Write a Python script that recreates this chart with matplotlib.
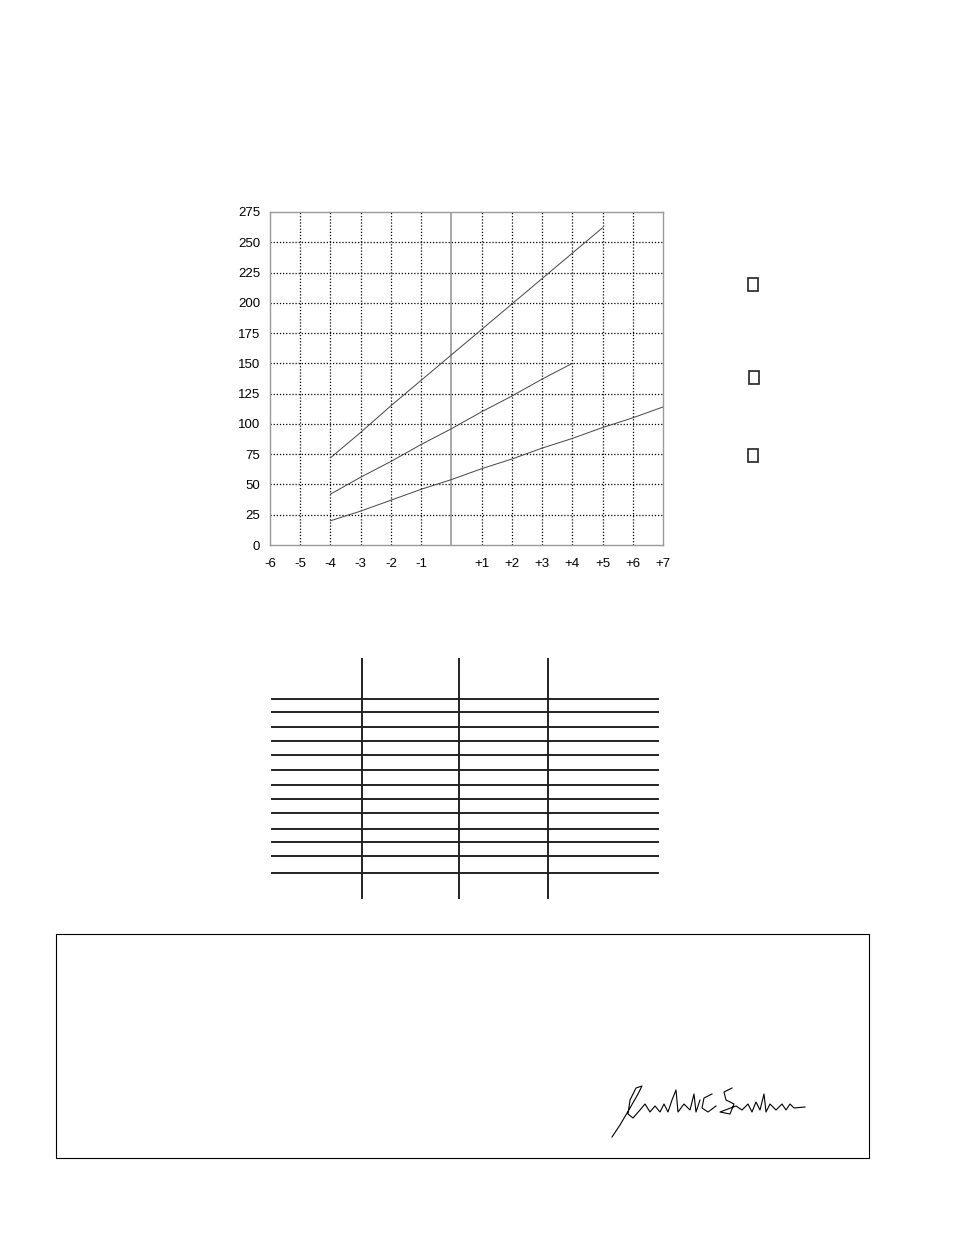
import matplotlib
matplotlib.use("Agg")
import matplotlib.pyplot as plt
from matplotlib.patches import Rectangle
from matplotlib.lines import Line2D
import numpy as np

plt.rcParams['font.family'] = ['Liberation Sans', 'DejaVu Sans']

# values
x_top = [-4, -3, -2, -1, 0, 1, 2, 3, 4, 5]
y_top = [72, 93, 115, 136, 157, 178, 199, 220, 241, 262]
x_mid = [-4, -3, -2, -1, 0, 1, 2, 3, 4]
y_mid = [42, 56, 69, 83, 96, 110, 123, 137, 150]
x_low = [-4, -3, -2, -1, 0, 1, 2, 3, 4, 5, 6, 7]
y_low = [20, 28, 37, 46, 54, 63, 71, 80, 88, 97, 105, 114]

x_ticks = [-6, -5, -4, -3, -2, -1, 1, 2, 3, 4, 5, 6, 7]
x_labels = ['-6', '-5', '-4', '-3', '-2', '-1', '+1', '+2', '+3', '+4', '+5', '+6', '+7']
y_ticks = [0, 25, 50, 75, 100, 125, 150, 175, 200, 225, 250, 275]

W, H = 954, 1235
fig = plt.figure(figsize=(W / 100, H / 100), dpi=100)

def fx(px):
    return px / W

def fy(py):
    return 1 - py / H

ax = fig.add_axes([fx(270), fy(545), fx(663) - fx(270), fy(212) - fy(545)])
ax.set_xlim(-6, 7)
ax.set_ylim(0, 275)
ax.set_xticks(x_ticks)
ax.set_xticklabels(x_labels)
ax.set_yticks(y_ticks)
ax.tick_params(length=0, labelsize=9.5)
ax.tick_params(axis='x', pad=9)
ax.tick_params(axis='y', pad=7)
for s in ax.spines.values():
    s.set_color('#999999')
    s.set_linewidth(1)

for xv in x_ticks[1:-1]:
    ax.axvline(xv, color='black', ls=(0, (1, 1.5)), lw=0.9, zorder=1)
for yv in y_ticks[1:-1]:
    ax.axhline(yv, color='black', ls=(0, (1, 1.5)), lw=0.9, zorder=1)
ax.axvline(0, color='#999999', lw=1.2, zorder=1)

for xs, ys in [(x_top, y_top), (x_mid, y_mid), (x_low, y_low)]:
    ax.plot(xs, ys, color='#444444', lw=0.7, zorder=3)

# legend boxes (empty glyph boxes in the reference)
for (bx, by) in [(748, 278), (749, 371), (748, 449)]:
    fig.patches.append(Rectangle((fx(bx), fy(by + 13)), fx(10), 13 / H,
                                 transform=fig.transFigure, fill=False,
                                 edgecolor='#222222', lw=1.2))

# empty table
col_x = [362, 459, 548]
row_y = [699, 712, 727, 741, 755, 770, 785, 799, 813, 829, 842, 856, 873]
for cx in col_x:
    fig.add_artist(Line2D([fx(cx), fx(cx)], [fy(659), fy(898)], color='#222222', lw=1.4))
for ry in row_y:
    fig.add_artist(Line2D([fx(272), fx(658)], [fy(ry), fy(ry)], color='#222222', lw=1.4))

# outer box
fig.patches.append(Rectangle((fx(56), fy(1158)), fx(869) - fx(56), fy(934) - fy(1158),
                             transform=fig.transFigure, fill=False,
                             edgecolor='black', lw=0.8))

# signature, rough freehand stroke
sig = [(612, 1137), (620, 1125), (630, 1108), (638, 1094), (642, 1086), (636, 1088),
       (630, 1100), (628, 1114), (633, 1118), (640, 1110), (645, 1104), (650, 1112),
       (655, 1106), (660, 1112), (664, 1104), (668, 1112), (672, 1100), (676, 1090),
       (678, 1112), (684, 1104), (690, 1110), (694, 1094), (696, 1112), (700, 1100)]
sig2 = [(712, 1094), (704, 1098), (702, 1108), (708, 1112), (716, 1106)]
sig3 = [(732, 1088), (724, 1092), (726, 1100), (734, 1104), (730, 1114), (720, 1112),
        (736, 1106), (742, 1110), (748, 1104), (752, 1112), (756, 1102), (760, 1110),
        (764, 1094), (766, 1112), (770, 1104), (776, 1110), (782, 1104), (786, 1110),
        (790, 1104), (794, 1108), (805, 1107)]
for path in [sig, sig2, sig3]:
    px = [fx(p[0]) for p in path]
    py = [fy(p[1]) for p in path]
    fig.add_artist(Line2D(px, py, color='black', lw=0.8))

fig.savefig('out.png', dpi=100)
